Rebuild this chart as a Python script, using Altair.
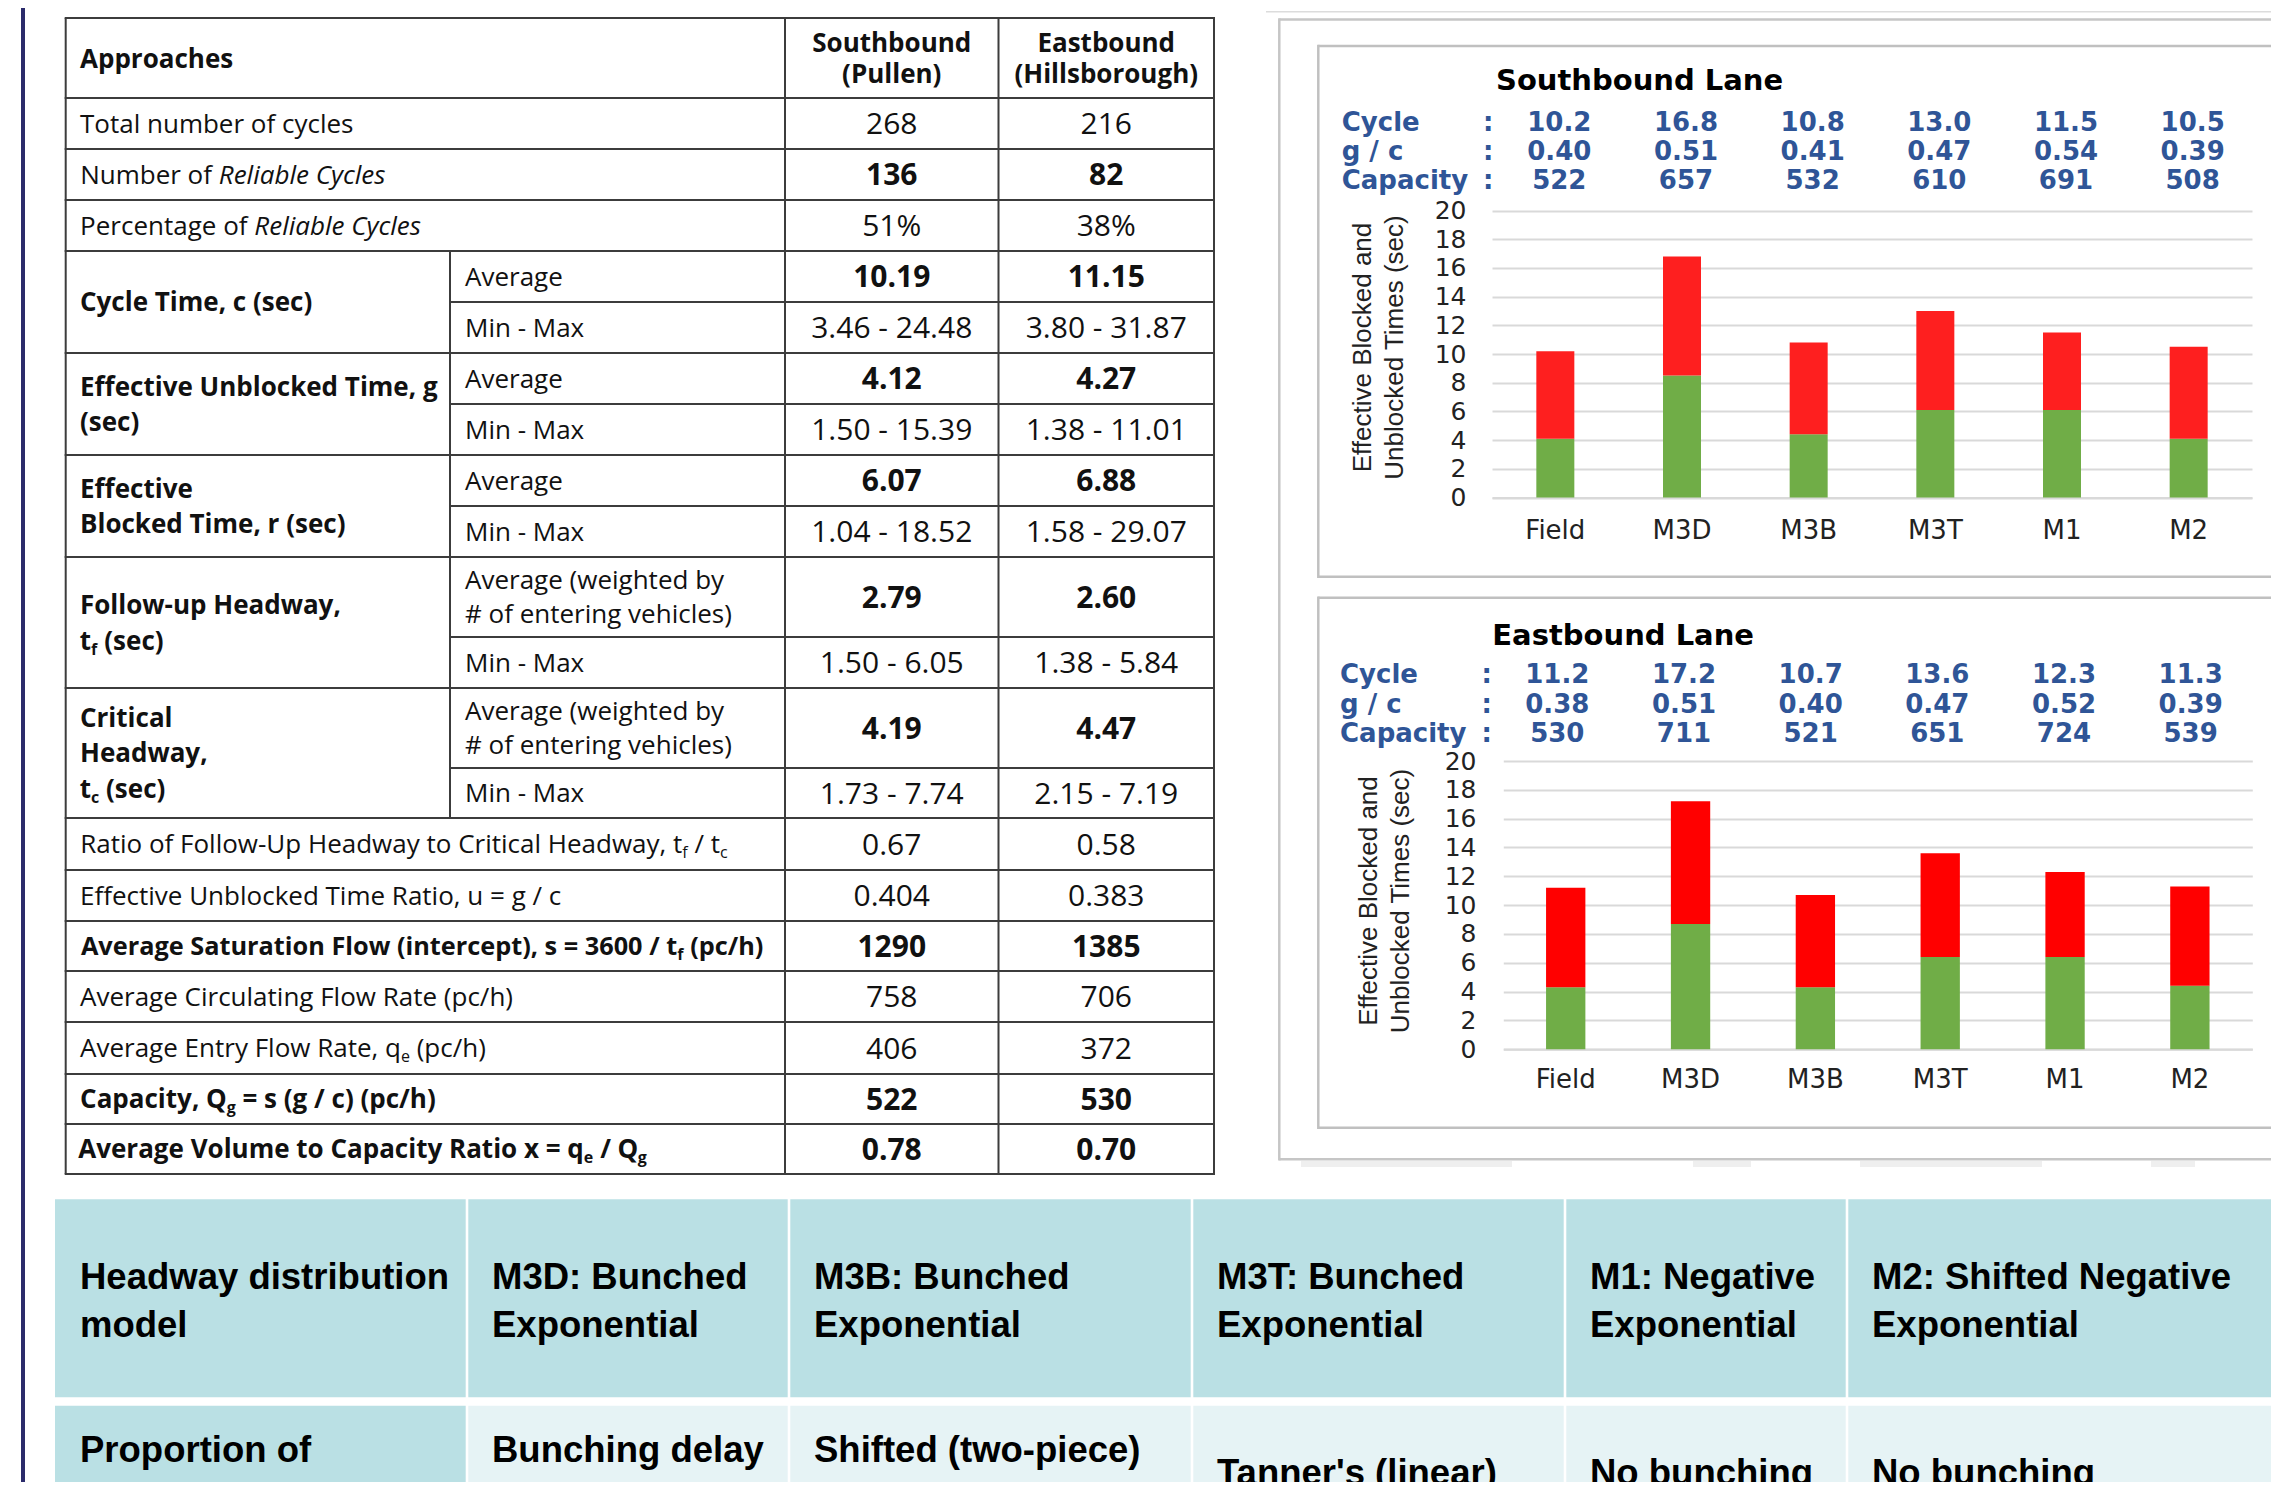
import altair as alt
import pandas as pd

W, H = 2263, 1474


def P(v):
    """reference-image pixel -> chart pixel (the page has an 8px margin)"""
    return v - 8


# ================================ DATA ================================
# ---- left table ----
header_label = "Approaches"
header_sb = ["Southbound", "(Pullen)"]
header_eb = ["Eastbound", "(Hillsborough)"]

full_row_labels = {
    0: [("Total number of cycles", "r")],
    1: [("Number of", "r"), (" Reliable Cycles", "i")],
    2: [("Percentage of", "r"), (" Reliable Cycles", "i")],
    13: [("Ratio of Follow-Up Headway to Critical Headway, t", "r"), ("f", "r_s"), (" / t", "r"), ("c", "r_s")],
    14: [("Effective Unblocked Time Ratio, u = g / c", "r")],
    15: [("Average Saturation Flow (intercept), s = 3600 / t", "b"), ("f", "b_s"), (" (pc/h)", "b")],
    16: [("Average Circulating Flow Rate (pc/h)", "r")],
    17: [("Average Entry Flow Rate, q", "r"), ("e", "r_s"), (" (pc/h)", "r")],
    18: [("Capacity, Q", "b"), ("g", "b_s"), (" = s (g / c) (pc/h)", "b")],
    19: [("Average Volume to Capacity Ratio x = q", "b"), ("e", "b_s"), (" / Q", "b"), ("g", "b_s")],
}
group_labels = [
    (3, 4, [[("Cycle Time, c (sec)", "b")]]),
    (5, 6, [[("Effective Unblocked Time, g", "b")], [("(sec)", "b")]]),
    (7, 8, [[("Effective", "b")], [("Blocked Time, r (sec)", "b")]]),
    (9, 10, [[("Follow-up Headway,", "b")], [("t", "b"), ("f", "b_s"), (" (sec)", "b")]]),
    (11, 12, [[("Critical", "b")], [("Headway,", "b")], [("t", "b"), ("c", "b_s"), (" (sec)", "b")]]),
]
weighted = ["Average (weighted by", "# of entering vehicles)"]
sub_labels = {3: ["Average"], 4: ["Min - Max"], 5: ["Average"], 6: ["Min - Max"],
              7: ["Average"], 8: ["Min - Max"], 9: weighted, 10: ["Min - Max"],
              11: weighted, 12: ["Min - Max"]}
sb_values = ["268", "136", "51%", "10.19", "3.46 - 24.48", "4.12", "1.50 - 15.39",
             "6.07", "1.04 - 18.52", "2.79", "1.50 - 6.05", "4.19", "1.73 - 7.74",
             "0.67", "0.404", "1290", "758", "406", "522", "0.78"]
eb_values = ["216", "82", "38%", "11.15", "3.80 - 31.87", "4.27", "1.38 - 11.01",
             "6.88", "1.58 - 29.07", "2.60", "1.38 - 5.84", "4.47", "2.15 - 7.19",
             "0.58", "0.383", "1385", "706", "372", "530", "0.70"]
value_bold = [0, 1, 0, 1, 0, 1, 0, 1, 0, 1, 0, 1, 0, 0, 0, 1, 0, 0, 1, 1]

# ---- lane charts ----
models = ["Field", "M3D", "M3B", "M3T", "M1", "M2"]
info_labels = ["Cycle", "g / c", "Capacity"]
y_title = ["Effective Blocked and", "Unblocked Times (sec)"]

sb_title = "Southbound Lane"
sb_unblocked = [4.1, 8.5, 4.4, 6.1, 6.1, 4.1]
sb_blocked = [6.1, 8.3, 6.4, 6.9, 5.4, 6.4]
sb_cycle = ["10.2", "16.8", "10.8", "13.0", "11.5", "10.5"]
sb_gc = ["0.40", "0.51", "0.41", "0.47", "0.54", "0.39"]
sb_capacity = ["522", "657", "532", "610", "691", "508"]

eb_title = "Eastbound Lane"
eb_unblocked = [4.3, 8.7, 4.3, 6.4, 6.4, 4.4]
eb_blocked = [6.9, 8.5, 6.4, 7.2, 5.9, 6.9]
eb_cycle = ["11.2", "17.2", "10.7", "13.6", "12.3", "11.3"]
eb_gc = ["0.38", "0.51", "0.40", "0.47", "0.52", "0.39"]
eb_capacity = ["530", "711", "521", "651", "724", "539"]

# ---- bottom table ----
bt_row1 = [["Headway distribution", "model"], ["M3D: Bunched", "Exponential"],
           ["M3B: Bunched", "Exponential"], ["M3T: Bunched", "Exponential"],
           ["M1: Negative", "Exponential"], ["M2: Shifted Negative", "Exponential"]]
bt_row2 = [["Proportion of", "unbunched vehicles"], ["Bunching delay", "parameter"],
           ["Shifted (two-piece)", "linear"], ["Tanner's (linear)"],
           ["No bunching"], ["No bunching"]]

# ============================== STYLE / LAYOUT ==============================
TF = "Open Sans"          # table font
CF = "DejaVu Sans"        # chart font
BF = "Liberation Sans"    # bottom table font
INK = "#111111"
LINE = "#3c3c3c"
GRID = "#d9d9d9"
TICK = "#222222"
BLUE = "#2f5597"
GREEN = "#70ad47"
TEAL = "#bae0e4"
PALE = "#e6f3f5"
FS, SUB_FS, SUB_DY, VAL_FS = 26, 16, 5, 30
ROW_FS = {15: 25.3}

TX = [65.7, 450, 785, 998.5, 1214]
TY = [18, 98, 149, 200, 251, 302, 353, 404, 455, 506, 557, 637, 688, 768, 818,
      870, 921, 971, 1022, 1074, 1124, 1174]
VC = [(TX[2] + TX[3]) / 2, (TX[3] + TX[4]) / 2]
LX, SX = 80, 465

REG = {' ': .260, 'A': .633, 'C': .631, 'E': .556, 'F': .516, 'H': .738, 'N': .748, 'P': .604,
       'R': .624, 'U': .722, 'a': .556, 'b': .613, 'c': .476, 'd': .613, 'e': .561, 'f': .339,
       'g': .548, 'h': .614, 'i': .253, 'l': .253, 'm': .930, 'n': .614, 'o': .604, 'p': .613,
       'q': .613, 'r': .408, 's': .477, 't': .353, 'u': .614, 'v': .501, 'w': .778, 'x': .524,
       'y': .502, ',': .245, '-': .322, '/': .367, '(': .296, ')': .296, '=': .572}
BOLD = {' ': .260, 'A': .716, 'C': .648, 'F': .569, 'Q': .770, 'S': .551, 'V': .673, 'a': .586,
        'b': .615, 'c': .492, 'd': .615, 'e': .576, 'f': .386, 'g': .540, 'h': .639, 'i': .295,
        'l': .295, 'm': .955, 'n': .639, 'o': .599, 'p': .615, 'q': .615, 'r': .434, 's': .493,
        't': .418, 'u': .639, 'v': .566, 'w': .824, 'x': .570, 'y': .566, ',': .292, '(': .339,
        ')': .339, '/': .387, '=': .572}
for d in "0123456789":
    REG[d] = BOLD[d] = .572


def tw(s, bold, size):
    tbl = BOLD if bold else REG
    k = 1.021 if bold else 1.0
    return sum(tbl.get(ch, .55) for ch in s) * size * k


texts, rules, rects = [], [], []


def add_text(x, y, t, font=TF, weight="normal", style="normal", size=FS, align="left", color=INK):
    texts.append(dict(x=P(x), y=P(y), t=t, font=font, weight=weight, style=style,
                      size=size, align=align, color=color))


def add_rich(segs, x0, y, fs=FS):
    if len(segs) == 1:
        txt, kind = segs[0]
        add_text(x0, y, txt, weight="bold" if kind.startswith("b") else "normal",
                 style="italic" if kind.startswith("i") else "normal", size=fs)
        return
    cur = x0
    for i, (txt, kind) in enumerate(segs):
        bold = kind.startswith("b")
        sub = kind.endswith("_s")
        size = SUB_FS if sub else fs
        core = txt.strip()
        kw = dict(weight="bold" if bold else "normal",
                  style="italic" if kind.startswith("i") else "normal", size=size)
        dy = SUB_DY if sub else 0
        if i == 0:
            cur = x0 + tw(core, bold, size)
            add_text(cur, y + dy, core, align="right", **kw)
        else:
            if txt.startswith(" "):
                cur += tw(" ", bold, fs)
            add_text(cur, y + dy, core, align="left", **kw)
            cur += tw(core, bold, size)


def add_rule(x1, y1, x2, y2, c=LINE, w=2.0):
    rules.append(dict(x1=P(x1), y1=P(y1), x2=P(x2), y2=P(y2), c=c, w=w))


def add_rect(x1, y1, x2, y2, c):
    rects.append(dict(x1=P(x1), y1=P(y1), x2=P(x2), y2=P(y2), c=c))


# ---------------- left table ----------------
add_rich([(header_label, "b")], LX, 68)
for k, lines in enumerate([header_sb, header_eb]):
    add_text(VC[k], 51.5, lines[0], weight="bold", align="center")
    add_text(VC[k], 83, lines[1], weight="bold", align="center")

partial = {5, 7, 9, 11, 13}
for j, yv in enumerate(TY):
    x_start = TX[1] if j in partial else TX[0]
    add_rule(x_start - 1, yv, TX[4] + 1, yv)
for xv in (TX[0], TX[2], TX[3], TX[4]):
    add_rule(xv, TY[0], xv, TY[-1])
add_rule(TX[1], TY[4], TX[1], TY[14])

for i in range(20):
    top, bot = TY[i + 1], TY[i + 2]
    cy = (top + bot) / 2
    base = cy + 9.3
    if i in full_row_labels:
        add_rich(full_row_labels[i], LX, base, ROW_FS.get(i, FS))
    if i in sub_labels:
        lines = sub_labels[i]
        if len(lines) == 1:
            add_text(SX, base, lines[0])
        else:
            add_text(SX, base - 17, lines[0])
            add_text(SX, base + 17, lines[1])
    wgt = "bold" if value_bold[i] else "normal"
    add_text(VC[0], cy + 10.7, sb_values[i], weight=wgt, align="center", size=VAL_FS)
    add_text(VC[1], cy + 10.7, eb_values[i], weight=wgt, align="center", size=VAL_FS)

for a, b, lines in group_labels:
    cy = (TY[a + 1] + TY[b + 2]) / 2
    n = len(lines)
    for k, segs in enumerate(lines):
        add_rich(segs, LX, cy + 9.3 + (k - (n - 1) / 2) * 35.5)

# ---------------- page decorations ----------------
add_rect(21, 0, 25, 1500, "#2b2b6b")
add_rule(1266, 11.7, 2290, 11.7, "#dcdcdc", 1.5)
BOX = "#c6c6c6"
add_rule(1279.3, 19.5, 2290, 19.5, BOX, 2.5)
add_rule(1279.3, 1159.3, 2290, 1159.3, BOX, 2.5)
add_rule(1279.3, 18.3, 1279.3, 1160.5, BOX, 2.5)
for top, bot in [(46, 576.7), (597.7, 1127.7)]:
    add_rule(1318.3, top, 2290, top, "#c0c0c0", 2.5)
    add_rule(1318.3, bot, 2290, bot, "#c0c0c0", 2.5)
    add_rule(1318.3, top - 1.2, 1318.3, bot + 1.2, "#c0c0c0", 2.5)
for xa, xb in [(1301, 1512), (1693, 1751), (1860, 2042), (2151, 2195)]:
    add_rect(xa, 1161, xb, 1167, "#efefef")

# ---------------- chart annotations (fixed text) ----------------
for title, tx, ty, lx, bases, colon_x in [
        (sb_title, 1496, 90, 1341.7, [130.7, 160, 189.3], 1488.3),
        (eb_title, 1492.3, 645, 1340, [683.3, 712.7, 741.7], 1486.7)]:
    add_text(tx, ty, title, font=CF, weight="bold", size=29, color="#000000")
    for lab, b in zip(info_labels, bases):
        add_text(lx, b, lab, font=CF, weight="bold", size=26, color=BLUE)
        add_text(colon_x, b, ":", font=CF, weight="bold", size=26, color=BLUE, align="center")

# ---------------- bottom table ----------------
BX = [55, 467, 789, 1192, 1565, 1847, 2300]
for c in range(6):
    x1, x2 = BX[c] + (1.3 if c else 0), BX[c + 1] - 1.3
    add_rect(x1, 1199.3, x2, 1397.3, TEAL)
    add_rect(x1, 1405.7, x2, 1520, TEAL if c == 0 else PALE)
    tx = BX[c] + 25
    for k, line in enumerate(bt_row1[c]):
        add_text(tx, 1289 + 48 * k, line, font=BF, weight="bold", size=36.5, color="#000000")
    r2 = bt_row2[c]
    start = 1462 if len(r2) == 2 else 1485
    for k, line in enumerate(r2):
        add_text(tx, start + 48 * k, line, font=BF, weight="bold", size=36.5, color="#000000")

# ============================== LAYERS ==============================
IX = lambda f: alt.X(f, scale=None, axis=None)
IY = lambda f: alt.Y(f, scale=None, axis=None)

rect_layer = alt.Chart(pd.DataFrame(rects)).mark_rect().encode(
    x=IX("x1:Q"), x2="x2:Q", y=IY("y1:Q"), y2="y2:Q",
    color=alt.Color("c:N", scale=None, legend=None))

rule_layer = alt.Chart(pd.DataFrame(rules)).mark_rule().encode(
    x=IX("x1:Q"), x2="x2:Q", y=IY("y1:Q"), y2="y2:Q",
    color=alt.Color("c:N", scale=None, legend=None),
    size=alt.Size("w:Q", scale=None, legend=None))

tdf = pd.DataFrame(texts)
text_layers = []
for (font, weight, style, align), g in tdf.groupby(["font", "weight", "style", "align"]):
    text_layers.append(
        alt.Chart(g.reset_index(drop=True)).mark_text(
            font=font, fontWeight=weight, fontStyle=style, align=align, baseline="alphabetic"
        ).encode(
            x=IX("x:Q"), y=IY("y:Q"), text="t:N",
            size=alt.Size("size:Q", scale=None, legend=None),
            color=alt.Color("color:N", scale=None, legend=None)))


def lane_bars(unblocked, blocked, red, gx0, gx1, y0, y20, pad, ylab_right, xlab_base,
              ytitle_base, ytitle_mid):
    df = pd.DataFrame({
        "model": models * 2,
        "part": ["Unblocked"] * 6 + ["Blocked"] * 6,
        "value": unblocked + blocked,
        "ord": [0] * 6 + [1] * 6,
    })
    ax_x = alt.Axis(orient="bottom", offset=P(y0) - H, title="", domain=True,
                    domainColor=GRID, domainWidth=2, ticks=False, tickSize=0,
                    labelPadding=xlab_base - y0, labelBaseline="alphabetic", labelAngle=0,
                    labelFont=CF, labelFontSize=26, labelColor=TICK, grid=False)
    ax_y = alt.Axis(orient="left", offset=-P(ylab_right), values=list(range(0, 21, 2)),
                    grid=True, gridColor=GRID, gridWidth=2, domain=False, ticks=False,
                    tickSize=0, labelPadding=0, labelFont=CF, labelFontSize=25,
                    labelColor=TICK, labelBaseline="middle",
                    title=y_title, titleFont=BF, titleFontSize=26, titleFontWeight="normal",
                    titleColor=TICK, titleAngle=270, titleAlign="center",
                    titleBaseline="alphabetic", titleLineHeight=32,
                    titleX=ytitle_base - ylab_right, titleY=P(ytitle_mid))
    return alt.Chart(df).mark_bar().encode(
        x=alt.X("model:N", scale=alt.Scale(domain=models, range=[P(gx0), P(gx1)],
                                          paddingInner=pad, paddingOuter=pad / 2), axis=ax_x),
        y=alt.Y("value:Q", stack="zero",
                scale=alt.Scale(domain=[0, 20], range=[P(y0), P(y20)], nice=False),
                axis=ax_y),
        color=alt.Color("part:N", scale=alt.Scale(domain=["Unblocked", "Blocked"],
                                                  range=[GREEN, red]), legend=None),
        order=alt.Order("ord:Q"),
    )


def lane_info(cycle, gc, cap, bases, dx):
    df = pd.DataFrame({
        "model": models * 3,
        "t": cycle + gc + cap,
        "y": [P(b) for b in bases for _ in models],
    })
    return alt.Chart(df).mark_text(
        font=CF, fontWeight="bold", fontSize=26, color=BLUE, align="center",
        baseline="alphabetic", dx=dx
    ).encode(
        x=alt.X("model:N", scale=alt.Scale(domain=models, range=[P(1492), P(2252)],
                                          paddingInner=0.7, paddingOuter=0.35), axis=None),
        y=IY("y:Q"), text="t:N")


sb_bars = lane_bars(sb_unblocked, sb_blocked, "#fe1f1f", 1492, 2252, 497.5, 210.5, 0.70,
                    1466, 538.3, 1370, 347)
eb_bars = lane_bars(eb_unblocked, eb_blocked, "#ff0000", 1503.3, 2252.3, 1049.3, 761, 0.685,
                    1476, 1087.3, 1376, 900.5)
sb_info = lane_info(sb_cycle, sb_gc, sb_capacity, [130.7, 160, 189.3], 4)
eb_info = lane_info(eb_cycle, eb_gc, eb_capacity, [683.3, 712.7, 741.7], 2)

chart = alt.layer(
    rect_layer, rule_layer, *text_layers, sb_bars, sb_info, eb_bars, eb_info
).resolve_scale(
    x="independent", y="independent", color="independent"
).properties(
    width=W, height=H, padding=0, background="white",
    autosize=alt.AutoSizeParams(type="none"),
).configure_view(stroke="transparent")

chart.save("out.html", embed_options={"renderer": "svg", "actions": False})
